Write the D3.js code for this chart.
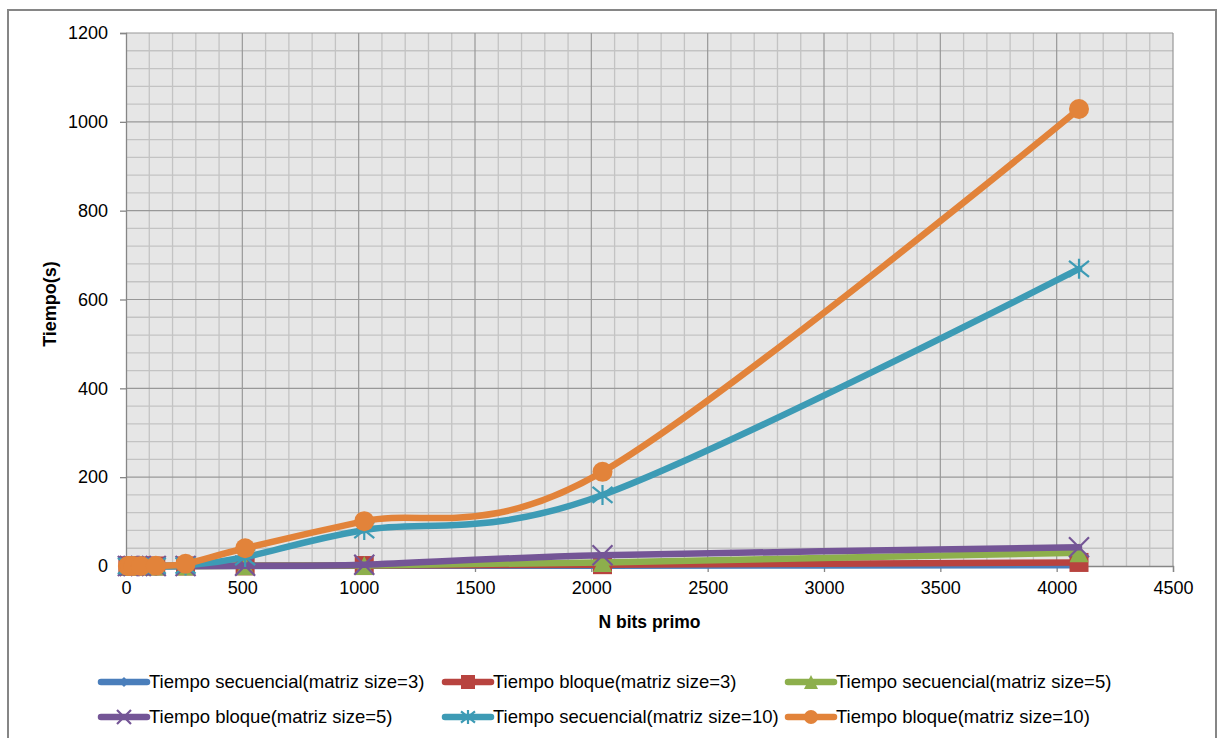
<!DOCTYPE html>
<html>
<head>
<meta charset="utf-8">
<script src="https://cdn.jsdelivr.net/npm/d3@7"></script>
<style>
  html, body { margin: 0; padding: 0; background: #ffffff; }
  svg { display: block; font-family: "Liberation Sans", Arial, sans-serif; }
</style>
</head>
<body>
<svg id="chart" width="1218" height="738"></svg>
<script>
// Tamaño del primo en bits
const nBits = [8, 16, 32, 64, 128, 256, 512, 1024, 2048, 4096];

// Tiempos medidos (segundos)
const secuencial3 = [0.001, 0.001, 0.002, 0.004, 0.01, 0.03, 0.1, 0.3, 0.8, 1.5];
const bloque3     = [0.001, 0.002, 0.004, 0.01, 0.03, 0.1, 0.3, 1.0, 3, 8];
const secuencial5 = [0.001, 0.002, 0.004, 0.01, 0.03, 0.1, 0.3, 1.2, 8, 30];
const bloque5     = [0.001, 0.002, 0.005, 0.01, 0.04, 0.2, 0.6, 3, 24, 42];
const secuencial10 = [0.002, 0.005, 0.01, 0.04, 0.2, 1, 20, 81, 160, 669];
const bloque10     = [0.005, 0.01, 0.03, 0.1, 0.6, 5, 40, 101, 212, 1029];

const seriesNames = [
  "Tiempo secuencial(matriz size=3)",
  "Tiempo bloque(matriz size=3)",
  "Tiempo secuencial(matriz size=5)",
  "Tiempo bloque(matriz size=5)",
  "Tiempo secuencial(matriz size=10)",
  "Tiempo bloque(matriz size=10)"
];

const xTicks = [0, 500, 1000, 1500, 2000, 2500, 3000, 3500, 4000, 4500];
const yTicks = [0, 200, 400, 600, 800, 1000, 1200];

const series = [
  { name: seriesNames[0], values: secuencial3,  color: "#4A7EBB", marker: "diamond" },
  { name: seriesNames[1], values: bloque3,      color: "#B8433F", marker: "square" },
  { name: seriesNames[2], values: secuencial5,  color: "#8DAF4C", marker: "triangle" },
  { name: seriesNames[3], values: bloque5,      color: "#745596", marker: "x" },
  { name: seriesNames[4], values: secuencial10, color: "#3D9BB5", marker: "star" },
  { name: seriesNames[5], values: bloque10,     color: "#E2833A", marker: "circle" }
];

const svg = d3.select("#chart");

// Marco del área del gráfico
svg.append("rect")
  .attr("x", 8).attr("y", 10)
  .attr("width", 1208).attr("height", 740)
  .attr("fill", "#ffffff")
  .attr("stroke", "#868686").attr("stroke-width", 2);

const plot = { left: 126, right: 1173, top: 33, bottom: 566 };

const x = d3.scaleLinear().domain([0, 4500]).range([plot.left, plot.right]);
const y = d3.scaleLinear().domain([0, 1200]).range([plot.bottom, plot.top]);

// Fondo del área de trazado
svg.append("rect")
  .attr("x", plot.left).attr("y", plot.top)
  .attr("width", plot.right - plot.left).attr("height", plot.bottom - plot.top)
  .attr("fill", "#e6e6e6");

// Cuadrícula secundaria
const grid = svg.append("g");
grid.selectAll(".vminor").data(d3.range(0, 4501, 100).filter(v => v % 500 !== 0))
  .join("line")
  .attr("x1", d => x(d)).attr("x2", d => x(d))
  .attr("y1", plot.top).attr("y2", plot.bottom)
  .attr("stroke", "#c3c3c3").attr("stroke-width", 1.3);
grid.selectAll(".hminor").data(d3.range(0, 1201, 40).filter(v => v % 200 !== 0))
  .join("line")
  .attr("x1", plot.left).attr("x2", plot.right)
  .attr("y1", d => y(d)).attr("y2", d => y(d))
  .attr("stroke", "#c3c3c3").attr("stroke-width", 1.3);

// Cuadrícula principal
grid.selectAll(".vmajor").data(xTicks.slice(1))
  .join("line")
  .attr("x1", d => x(d)).attr("x2", d => x(d))
  .attr("y1", plot.top).attr("y2", plot.bottom)
  .attr("stroke", "#989898").attr("stroke-width", 1.2);
grid.selectAll(".hmajor").data(yTicks.slice(1))
  .join("line")
  .attr("x1", plot.left).attr("x2", plot.right)
  .attr("y1", d => y(d)).attr("y2", d => y(d))
  .attr("stroke", "#989898").attr("stroke-width", 1.2);

// Ejes
const yAxis = svg.append("g")
  .attr("transform", `translate(${plot.left},0)`)
  .call(d3.axisLeft(y).tickValues(yTicks).tickSize(6).tickPadding(12).tickFormat(d3.format("d")));
const xAxis = svg.append("g")
  .attr("transform", `translate(0,${plot.bottom})`)
  .call(d3.axisBottom(x).tickValues(xTicks).tickSize(6).tickPadding(9).tickFormat(d3.format("d")));

[yAxis, xAxis].forEach(g => {
  g.select(".domain").attr("stroke", "#868686").attr("stroke-width", 1.3);
  g.selectAll(".tick line").attr("stroke", "#868686").attr("stroke-width", 1.3);
  g.selectAll(".tick text").attr("fill", "#000").style("font-size", "18px")
    .style("font-family", "'Liberation Sans', Arial, sans-serif");
});

// Títulos de los ejes
svg.append("text")
  .attr("x", (plot.left + plot.right) / 2).attr("y", 628)
  .attr("text-anchor", "middle")
  .style("font-size", "17.5px").style("font-weight", "bold")
  .text("N bits primo");
svg.append("text")
  .attr("transform", "translate(56,304) rotate(-90)")
  .attr("text-anchor", "middle")
  .style("font-size", "18px").style("font-weight", "bold")
  .text("Tiempo(s)");

// Marcadores
function drawMarker(g, type, color, size) {
  const h = size / 2;
  if (type === "diamond") {
    g.append("path").attr("d", `M0,${-h}L${h},0L0,${h}L${-h},0Z`).attr("fill", color);
  } else if (type === "square") {
    g.append("rect").attr("x", -h).attr("y", -h).attr("width", size).attr("height", size)
      .attr("fill", color);
  } else if (type === "triangle") {
    g.append("path").attr("d", `M0,${-h}L${h},${h}L${-h},${h}Z`).attr("fill", color);
  } else if (type === "x") {
    g.append("path").attr("d", `M${-h},${-h}L${h},${h}M${-h},${h}L${h},${-h}`)
      .attr("stroke", color).attr("stroke-width", 2.2).attr("fill", "none");
  } else if (type === "star") {
    g.append("path").attr("d", `M${-h},${-h * 0.8}L${h},${h * 0.8}M${-h},${h * 0.8}L${h},${-h * 0.8}M0,${-h}L0,${h}`)
      .attr("stroke", color).attr("stroke-width", 2.2).attr("fill", "none");
  } else if (type === "circle") {
    g.append("circle").attr("r", h).attr("fill", color);
  }
}

const line = d3.line()
  .x((d, i) => x(nBits[i]))
  .y(d => y(d))
  .curve(d3.curveCatmullRom.alpha(0));

const markerSize = { diamond: 12, square: 19, triangle: 19, x: 20, star: 20, circle: 20 };

series.forEach(s => {
  const g = svg.append("g");
  g.append("path")
    .attr("d", line(s.values))
    .attr("fill", "none")
    .attr("stroke", s.color)
    .attr("stroke-width", 6.5)
    .attr("stroke-linejoin", "round")
    .attr("stroke-linecap", "round");
  s.values.forEach((v, i) => {
    const m = g.append("g").attr("transform", `translate(${x(nBits[i])},${y(v)})`);
    drawMarker(m, s.marker, s.color, markerSize[s.marker]);
  });
});

// Leyenda
const legendCols = [101, 445, 788];
const legendRows = [682, 717];
series.forEach((s, i) => {
  const lx = legendCols[i % 3];
  const ly = legendRows[Math.floor(i / 3)];
  const g = svg.append("g").attr("transform", `translate(${lx},${ly})`);
  g.append("line").attr("x1", 0).attr("x2", 46).attr("y1", 0).attr("y2", 0)
    .attr("stroke", s.color).attr("stroke-width", 6.5).attr("stroke-linecap", "round");
  const m = g.append("g").attr("transform", "translate(23,0)");
  drawMarker(m, s.marker, s.color, s.marker === "diamond" ? 10 : 14);
  g.append("text")
    .attr("x", 48).attr("y", 0).attr("dy", "0.35em")
    .style("font-size", "18.5px")
    .attr("fill", "#000")
    .text(s.name);
});
</script>
</body>
</html>
